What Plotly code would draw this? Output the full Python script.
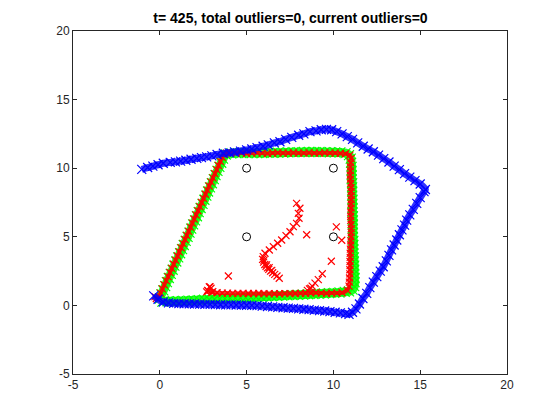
import plotly.graph_objects as go

# ---- landmarks (black circles) ----
landmark_x = [5, 10, 5, 10]
landmark_y = [10, 10, 5, 5]

# ---- blue trajectory (odometry) ----
blue_x = [-0.35, -0.1, 0.2, 0.5, 0.8, 1.1, 1.4, 1.7, 2.0, 2.3, 2.6, 2.9, 3.2, 3.5, 3.8, 4.1, 4.4, 4.7,
          5.0, 5.3, 5.6, 5.9, 6.2, 6.5, 6.8, 7.1, 7.4, 7.7, 8.0, 8.3, 8.6, 8.9, 9.2, 9.5, 9.8,
          10.1, 10.4, 10.7, 10.9,
          11.1, 11.3, 11.5, 11.7, 11.92, 12.1, 12.3, 12.5, 12.7, 12.87, 13.05, 13.2, 13.35, 13.5,
          13.65, 13.8, 13.95, 14.1, 14.22, 14.4, 14.6, 14.8, 15.0, 15.22, 15.3,
          15.0, 14.7, 14.4, 14.1, 13.8, 13.5, 13.2, 12.9, 12.6, 12.3, 12.0, 11.72, 11.4, 11.1,
          10.8, 10.5, 10.19, 9.9, 9.6, 9.3, 9.0, 8.65,
          8.3, 8.0, 7.6, 7.25, 6.92, 6.6, 6.25, 5.95, 5.6, 5.3, 5.0, 4.65, 4.3, 4.0, 3.66,
          3.3, 3.0, 2.7, 2.4, 2.13, 1.8, 1.5, 1.2, 0.9, 0.6, 0.2, -0.1, -0.4, -0.7, -1.04]
blue_y = [0.7, 0.45, 0.25, 0.18, 0.15, 0.13, 0.12, 0.11, 0.1, 0.09, 0.08, 0.07, 0.06, 0.05,
          0.04, 0.04, 0.03, 0.02, 0.01, 0.0, -0.02, -0.05, -0.08, -0.11, -0.14, -0.17, -0.2,
          -0.22, -0.25, -0.28, -0.31, -0.35, -0.38, -0.41, -0.45, -0.5, -0.55, -0.6, -0.65,
          -0.5, -0.25, 0.1, 0.5, 0.88, 1.3, 1.7, 2.1, 2.5, 2.82, 3.25, 3.65, 4.05, 4.4,
          4.77, 5.15, 5.5, 5.85, 6.22, 6.6, 7.0, 7.44, 7.85, 8.29, 8.45,
          8.85, 9.1, 9.35, 9.6, 9.9, 10.15, 10.45, 10.7, 10.95, 11.2, 11.4, 11.6, 11.85, 12.1,
          12.3, 12.5, 12.66, 12.8, 12.83, 12.8, 12.72, 12.66,
          12.5, 12.4, 12.25, 12.1, 11.93, 11.85, 11.7, 11.6, 11.5, 11.4, 11.33, 11.25, 11.18,
          11.12, 11.09, 11.0, 10.9, 10.83, 10.77, 10.72, 10.65, 10.58, 10.52, 10.46, 10.42,
          10.36, 10.25, 10.15, 10.05, 9.92]

# ---- green trajectory (ground truth) ----
green_x = [0.15, 0.45, 0.75, 1.05, 1.35, 1.65, 1.95, 2.25, 2.55, 2.85, 3.15, 3.45, 3.75, 4.05,
           4.35, 4.65, 4.95, 5.25, 5.55, 5.85, 6.15, 6.45, 6.75, 7.05, 7.35, 7.65, 7.95, 8.25,
           8.55, 8.85, 9.15, 9.45, 9.75, 10.05, 10.35, 10.65, 10.9,
           11.1, 11.2,
           11.22, 11.22, 11.2, 11.2, 11.2, 11.18, 11.18, 11.15, 11.15, 11.15, 11.15, 11.12, 11.12,
           11.12, 11.12, 11.12, 11.12, 11.1, 11.1, 11.1, 11.1, 11.08, 11.08, 11.08, 11.08, 11.05,
           11.05, 11.05, 11.05, 11.02, 11.0,
           10.9, 10.7,
           10.4, 10.1, 9.8, 9.5, 9.2, 8.9, 8.6, 8.3, 8.0, 7.7, 7.4, 7.1, 6.8, 6.5, 6.2, 5.9, 5.6,
           5.3, 5.0, 4.7, 4.4, 4.1,
           3.8,
           3.64, 3.54, 3.43, 3.32, 3.21, 3.11, 3.0, 2.89, 2.78, 2.68, 2.57, 2.46, 2.35, 2.24,
           2.14, 2.03, 1.92, 1.81, 1.71, 1.6, 1.49, 1.38, 1.28, 1.17, 1.06, 0.95, 0.84, 0.74,
           0.63, 0.52, 0.41, 0.31, 0.2, 0.09, 0.0]
green_y = [0.28, 0.29, 0.3, 0.31, 0.33, 0.35, 0.37, 0.39, 0.41, 0.43, 0.45, 0.47, 0.49, 0.51,
           0.53, 0.55, 0.57, 0.59, 0.61, 0.63, 0.65, 0.67, 0.69, 0.71, 0.73, 0.75, 0.77, 0.79,
           0.81, 0.83, 0.85, 0.87, 0.89, 0.91, 0.94, 0.98, 1.02,
           1.15, 1.4,
           1.7, 2.0, 2.3, 2.6, 2.9, 3.2, 3.5, 3.8, 4.1, 4.4, 4.7, 5.0, 5.3, 5.6, 5.9, 6.2, 6.5,
           6.8, 7.1, 7.4, 7.7, 8.0, 8.3, 8.6, 8.9, 9.2, 9.5, 9.8, 10.1, 10.4, 10.7,
           10.95, 11.1,
           11.15, 11.15, 11.16, 11.17, 11.18, 11.18, 11.18, 11.18, 11.17, 11.16, 11.15, 11.14,
           11.13, 11.12, 11.12, 11.11, 11.1, 11.1, 11.1, 11.1, 11.1, 11.08,
           11.0,
           10.7, 10.4, 10.1, 9.8, 9.5, 9.2, 8.9, 8.6, 8.3, 8.0, 7.7, 7.4, 7.1, 6.8, 6.5, 6.2,
           5.9, 5.6, 5.3, 5.0, 4.7, 4.4, 4.1, 3.8, 3.5, 3.2, 2.9, 2.6, 2.3, 2.0, 1.7, 1.4,
           1.1, 0.8, 0.5]

# ---- red trajectory (estimate) ----
red_x = [-0.28, -0.2, -0.06, 0.05, 0.15, 0.26, 0.37, 0.48, 0.59, 0.69, 0.8, 0.91, 1.02, 1.12,
         1.23, 1.34, 1.45, 1.55, 1.66, 1.77, 1.88, 1.98, 2.09, 2.2, 2.31, 2.41, 2.52, 2.63,
         2.74, 2.84, 2.95, 3.06, 3.17, 3.28, 3.38, 3.49, 3.6,
         3.7, 3.85,
         4.1, 4.4, 4.7, 5.0, 5.3, 5.6, 5.9, 6.2, 6.5, 6.8, 7.1, 7.4, 7.7, 8.0, 8.3, 8.6, 8.9,
         9.2, 9.5, 9.8, 10.1, 10.4, 10.7,
         10.95, 11.02,
         11.0, 10.98, 10.98, 10.97, 10.98, 11.0, 11.02, 11.02, 11.03, 11.03, 11.02, 11.02, 11.0,
         11.0, 11.0, 11.02, 11.03, 11.03, 11.02, 11.0, 11.0, 10.98, 10.97, 10.97, 10.96, 10.96,
         10.95, 10.95, 10.93, 10.92, 10.9,
         10.8,
         10.5, 10.2, 9.9, 9.6, 9.3, 9.0, 8.7, 8.4, 8.1, 7.8, 7.5, 7.2, 6.9, 6.6, 6.3, 6.0, 5.7,
         5.4, 5.1, 4.8, 4.5, 4.2, 3.9, 3.6, 3.3, 3.0, 2.7]
red_y = [0.64, 0.5, 0.6, 0.9, 1.2, 1.5, 1.8, 2.1, 2.4, 2.7, 3.0, 3.3, 3.6, 3.9, 4.2, 4.5, 4.8,
         5.1, 5.4, 5.7, 6.0, 6.3, 6.6, 6.9, 7.2, 7.5, 7.8, 8.1, 8.4, 8.7, 9.0, 9.3, 9.6, 9.9,
         10.2, 10.5, 10.8,
         11.0, 11.1,
         11.12, 11.1, 11.1, 11.08, 11.1, 11.12, 11.1, 11.08, 11.1, 11.12, 11.1, 11.1, 11.12,
         11.1, 11.1, 11.12, 11.1, 11.1, 11.12, 11.1, 11.1, 11.08, 11.05,
         10.95, 10.7,
         10.4, 10.1, 9.8, 9.5, 9.2, 8.9, 8.6, 8.3, 8.0, 7.7, 7.4, 7.1, 6.8, 6.5, 6.2, 5.9, 5.6,
         5.3, 5.0, 4.7, 4.4, 4.1, 3.8, 3.5, 3.2, 2.9, 2.6, 2.3, 2.0, 1.7, 1.4,
         1.1,
         0.92, 0.9, 0.9, 0.88, 0.9, 0.92, 0.9, 0.88, 0.88, 0.87, 0.86, 0.86, 0.85, 0.85, 0.86,
         0.86, 0.87, 0.87, 0.87, 0.88, 0.88, 0.88, 0.9, 0.9, 0.92, 0.95, 0.98]

# ---- red curved run of estimates inside the square ----
red_curve_x = [7.88, 8.07, 7.98, 8.02, 7.88, 7.69, 7.5, 7.27, 7.02, 6.79, 6.54, 6.31, 6.06,
               5.96, 5.92, 5.98, 6.05, 6.12, 6.2, 6.28, 6.38, 6.5, 6.62, 6.75, 6.88]
red_curve_y = [7.44, 7.08, 6.71, 6.35, 5.98, 5.74, 5.37, 5.08, 4.77, 4.53, 4.28, 4.04, 3.8,
               3.55, 3.35, 3.15, 2.98, 2.85, 2.74, 2.62, 2.5, 2.38, 2.26, 2.14, 1.98]

# ---- isolated red estimates ----
red_pts_x = [6.0, 6.15, 6.3, 6.45, 8.46, 10.17, 10.48, 9.88, 9.36, 9.13, 8.94, 8.78, 8.62,
             8.5, 8.7, 3.95, 2.89, 2.79, 2.75, 2.95, 2.85, 3.05]
red_pts_y = [3.3, 2.95, 2.75, 2.55, 5.15, 5.72, 4.75, 3.22, 2.31, 1.88, 1.62, 1.4, 1.2,
             1.1, 1.25, 2.14, 1.36, 1.05, 1.1, 1.25, 1.35, 1.0]

# ---- axes / title text ----
tick_vals = [-5, 0, 5, 10, 15, 20]
title_text = "t= 425, total outliers=0, current outliers=0"

BLUE = "#0000FF"
GREEN = "#00FF00"
RED = "#FF0000"
AX = "#262626"
FONT = "Arial, Liberation Sans, sans-serif"


def band(x, y, rgba, width):
    return go.Scatter(x=x, y=y, mode="lines", hoverinfo="skip", showlegend=False,
                      line=dict(color=rgba, width=width, shape="spline", smoothing=0.6))


def xmarks(x, y, color, size):
    return go.Scatter(
        x=x, y=y, mode="markers", hoverinfo="skip", showlegend=False,
        marker=dict(symbol="x-thin", size=size, color=color,
                    line=dict(width=1.2, color=color)),
    )


fig = go.Figure()
fig.add_trace(band(green_x, green_y, "rgba(0,255,0,0.85)", 9))
fig.add_trace(xmarks(green_x, green_y, GREEN, 10))
fig.add_trace(band(red_x, red_y, "rgba(255,0,0,0.8)", 4))
fig.add_trace(xmarks(red_x, red_y, RED, 7))
fig.add_trace(band(red_curve_x, red_curve_y, "rgba(255,0,0,0.35)", 2))
fig.add_trace(xmarks(red_curve_x, red_curve_y, RED, 7))
fig.add_trace(xmarks(red_pts_x, red_pts_y, RED, 7))
fig.add_trace(band(blue_x, blue_y, "rgba(0,0,255,0.8)", 7))
fig.add_trace(xmarks(blue_x, blue_y, BLUE, 9))
fig.add_trace(go.Scatter(
    x=landmark_x, y=landmark_y, mode="markers", hoverinfo="skip", showlegend=False,
    marker=dict(symbol="circle-open", size=8, color="#000000",
                line=dict(width=1, color="#000000")),
))

axis_common = dict(
    range=[-5, 20], tickvals=tick_vals, ticktext=[str(v) for v in tick_vals],
    showgrid=False, zeroline=False, showline=True, linecolor=AX, linewidth=1,
    mirror="ticks", ticks="inside", ticklen=4, tickwidth=1, tickcolor=AX,
    tickfont=dict(family=FONT, size=12, color=AX),
    fixedrange=True,
)

# the page adds an 8px body margin; the figure is sized so the plot area lands
# on the reference's pixels
fig.update_layout(
    width=552, height=412,
    margin=dict(l=65, r=53, t=23, b=46, autoexpand=False),
    paper_bgcolor="white", plot_bgcolor="white",
    xaxis=dict(**axis_common),
    yaxis=dict(**axis_common),
    title=dict(text="<b>" + title_text + "</b>", x=(290.5 - 8) / 552, xanchor="center",
               y=1 - 10 / 412, yanchor="middle", yref="container",
               font=dict(family=FONT, size=14, color="#000000")),
)

fig.write_html("out.html")
